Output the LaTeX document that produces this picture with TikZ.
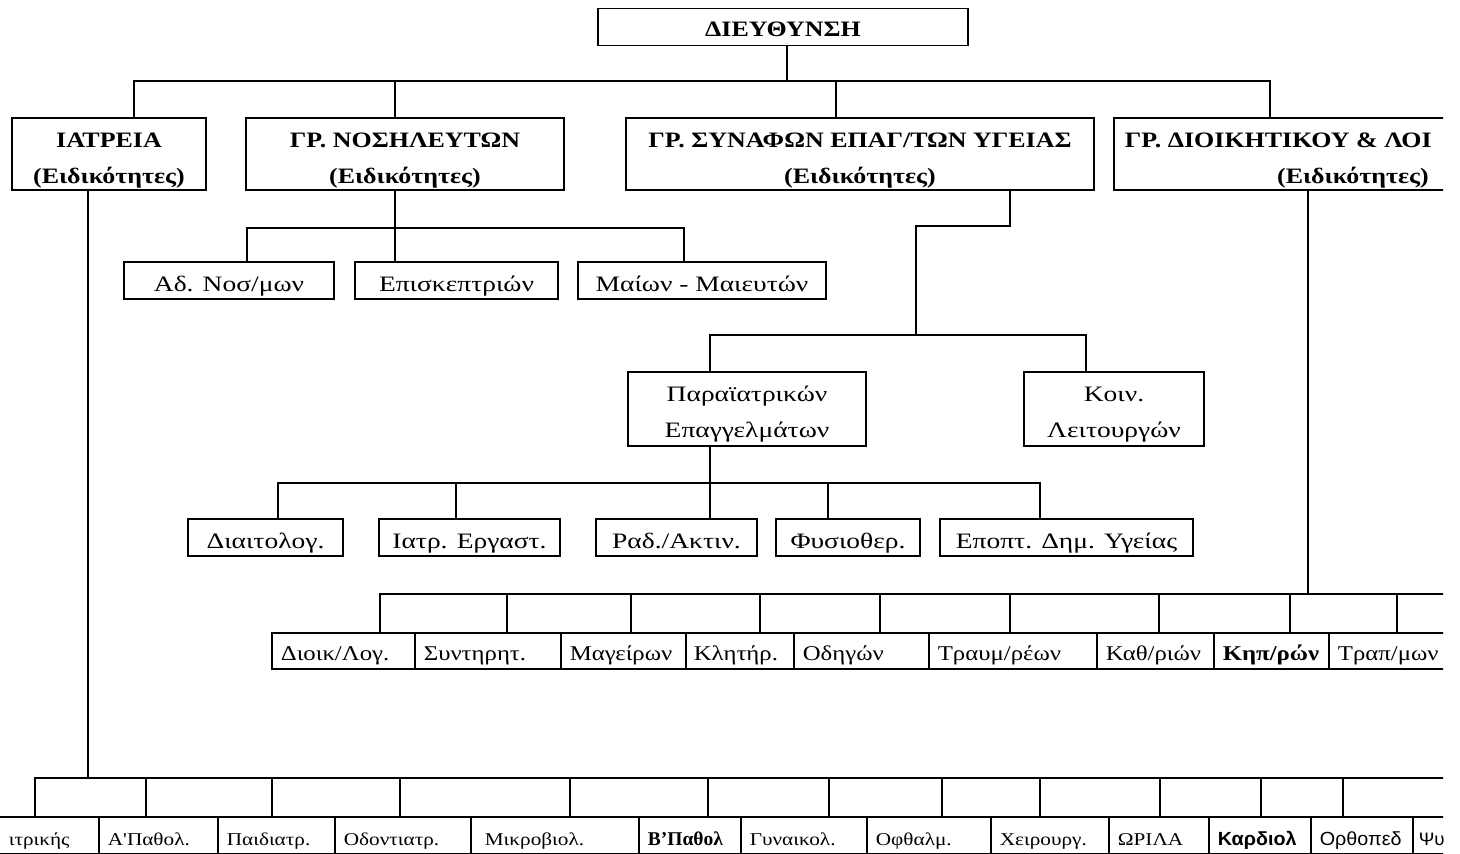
\documentclass[tikz,border=0pt]{standalone}
\usepackage{fontspec}
\setmainfont{Liberation Serif}
\newfontfamily\hdf{Liberation Serif}[FakeStretch=1.18]
\newfontfamily\rgf{Liberation Serif}[FakeStretch=1.25]
\newfontfamily\celf{Liberation Serif}[FakeStretch=1.18]
\newfontfamily\sansf{Liberation Sans}[FakeStretch=1.04]
\begin{document}
\begin{tikzpicture}[x=1pt,y=-1pt,line width=1.7pt,
  mbox/.style={draw,inner sep=0pt,align=center},
  sbox/.style={draw,inner sep=0pt,text height=29pt,text depth=8pt,minimum height=37},
  hd/.style={font=\fontsize{22}{36}\hdf\bfseries},
  rg/.style={font=\fontsize{22}{36}\rgf},
  cell/.style={draw,anchor=north west,inner sep=0pt,inner xsep=9pt,align=left,
    font=\fontsize{21}{24}\celf,text height=28pt,text depth=8pt},
  bcell/.style={draw,anchor=north west,inner sep=0pt,inner xsep=9pt,align=left,
    font=\fontsize{18}{21}\celf,text height=29pt,text depth=8pt}]
\useasboundingbox (0,0) rectangle (1460,854);
\fill[white] (0,0) rectangle (1460,854);
\begin{scope}
\clip (0,0) rectangle (1443,854);
% level 1
\node[sbox,hd,minimum width=370,text height=28pt,text depth=9pt] (dir) at (783,27) {ΔΙΕΥΘΥΝΣΗ};
% level 2
\node[mbox,hd,minimum width=194,minimum height=72] (iatreia) at (109,154) {\rule{0pt}{27pt}ΙΑΤΡΕΙΑ\\(Ειδικότητες)};
\node[mbox,hd,minimum width=318,minimum height=72] (nosil) at (405,154) {\rule{0pt}{27pt}ΓΡ. ΝΟΣΗΛΕΥΤΩΝ\\(Ειδικότητες)};
\node[mbox,hd,minimum width=468,minimum height=72] (synaf) at (860,154) {\rule{0pt}{27pt}ΓΡ. ΣΥΝΑΦΩΝ ΕΠΑΓ/ΤΩΝ ΥΓΕΙΑΣ\\(Ειδικότητες)};
\node[mbox,minimum width=486,minimum height=72] (dioik) at (1357,154) {};
\node[hd,anchor=base west,inner sep=0pt] (dioikt1) at (1124,147) {ΓΡ. ΔΙΟΙΚΗΤΙΚΟΥ \& ΛΟΙ};
\node[hd,anchor=base,inner sep=0pt] (dioikt2) at (1353,183) {(Ειδικότητες)};
% nursing children
\node[sbox,rg,minimum width=210] (ados) at (229,280.5) {Αδ. Νοσ/μων};
\node[sbox,rg,minimum width=203] (episk) at (456.5,280.5) {Επισκεπτριών};
\node[sbox,rg,minimum width=248] (maion) at (702,280.5) {Μαίων - Μαιευτών};
% allied
\node[mbox,rg,minimum width=238,minimum height=74] (para) at (747,409) {\rule{0pt}{25pt}Παραϊατρικών\\Επαγγελμάτων};
\node[mbox,rg,minimum width=180,minimum height=74] (koin) at (1114,409) {\rule{0pt}{25pt}Κοιν.\\Λειτουργών};
\node[sbox,rg,minimum width=155] (diait) at (265.5,537.5) {Διαιτολογ.};
\node[sbox,rg,minimum width=181] (iatr) at (469.5,537.5) {Ιατρ. Εργαστ.};
\node[sbox,rg,minimum width=161] (rad) at (676.5,537.5) {Ραδ./Ακτιν.};
\node[sbox,rg,minimum width=144] (fysio) at (848,537.5) {Φυσιοθερ.};
\node[sbox,rg,minimum width=253] (epopt) at (1066.5,537.5) {Εποπτ. Δημ. Υγείας};
% admin row
\node[cell,text width=125] (s1) at (271,632) {Διοικ/Λογ.};
\node[cell,text width=128] (s2) at (414,632) {Συντηρητ.};
\node[cell,text width=107] (s3) at (560,632) {Μαγείρων};
\node[cell,inner xsep=8pt,text width=92] (s4) at (685,632) {Κλητήρ.};
\node[cell,text width=117] (s5) at (793,632) {Οδηγών};
\node[cell,text width=150] (s6) at (928,632) {Τραυμ/ρέων};
\node[cell,text width=99] (s7) at (1096,632) {Καθ/ριών};
\node[cell,text width=97,font=\fontsize{21}{24}\celf\bfseries] (s8) at (1213,632) {Κηπ/ρών};
\node[cell,text width=100] (s9) at (1328,632) {Τραπ/μων};
% medical row
\node[bcell,text width=83] (b1) at (-3,816) {\hspace*{2pt}ιτρικής};
\node[bcell,text width=101] (b2) at (98,816) {Α'Παθολ.};
\node[bcell,text width=99] (b3) at (217,816) {Παιδιατρ.};
\node[bcell,text width=118] (b4) at (334,816) {Οδοντιατρ.};
\node[bcell,text width=150] (b5) at (470,816) {\hspace*{5pt}Μικροβιολ.};
\node[bcell,text width=84,inner xsep=9pt,font=\fontsize{19.5}{21}\rmfamily\bfseries] (b6) at (638,816) {Β'Παθολ};
\node[bcell,text width=108] (b7) at (740,816) {Γυναικολ.};
\node[bcell,text width=106] (b8) at (866,816) {Οφθαλμ.};
\node[bcell,text width=100] (b9) at (990,816) {Χειρουργ.};
\node[bcell,text width=82] (b10) at (1108,816) {ΩΡΙΛΑ};
\node[bcell,text width=84,font=\fontsize{19}{21}\sansf\bfseries] (b11) at (1208,816) {Καρδιολ};
\node[bcell,text width=84,font=\fontsize{19}{21}\sansf] (b12) at (1310,816) {Ορθοπεδ};
\node[bcell,text width=70,inner xsep=6pt,font=\fontsize{18}{21}\sansf] (b13) at (1412,816) {Ψυ};
% connector coordinates
\coordinate (bus1) at (787,81);
\coordinate (bus2) at (395,228);
\coordinate (bus3) at (916,335);
\coordinate (bus4) at (710,483);
\coordinate (bus5) at (1308,594);
\coordinate (bus6) at (88,778);
% top bus
\draw (dir.south -| bus1) -- (bus1);
\draw (iatreia.north -| 134,0) |- (bus1) -| (dioik.north -| 1270,0);
\draw (nosil.north -| 395,0) -- (bus1 -| 395,0);
\draw (synaf.north -| 836,0) -- (bus1 -| 836,0);
% nursing
\draw (nosil.south -| bus2) -- (bus2);
\draw (ados.north -| 247,0) |- (bus2) -| (maion.north -| 684,0);
\draw (bus2) -- (episk.north -| bus2);
% allied
\draw (synaf.south -| 1010,0) |- (916,226) -- (bus3);
\draw (para.north -| 710,0) |- (bus3) -| (koin.north -| 1086,0);
\draw (para.south -| bus4) -- (bus4);
\draw (diait.north -| 278,0) |- (bus4) -| (epopt.north -| 1040,0);
\draw (iatr.north -| 456,0) -- (bus4 -| 456,0);
\draw (rad.north -| 710,0) -- (bus4 -| 710,0);
\draw (fysio.north -| 828,0) -- (bus4 -| 828,0);
% admin
\draw (dioik.south -| bus5) -- (bus5);
\draw (s1.north -| 380,0) |- (1450,594);
\foreach \n/\x in {s2/507,s3/631,s4/760,s5/880,s6/1010,s7/1159,s8/1290,s9/1397}
  \draw (\n.north -| \x,0) -- (bus5 -| \x,0);
% medical
\draw (iatreia.south -| bus6) -- (bus6);
\draw (b1.north -| 35,0) |- (1450,778);
\foreach \n/\x in {b2/146,b3/272,b4/400,b5/570,b6/708,b7/829,b8/942,b9/1040,b10/1160,b11/1261,b12/1343}
  \draw (\n.north -| \x,0) -- (bus6 -| \x,0);
\end{scope}
\end{tikzpicture}
\end{document}
